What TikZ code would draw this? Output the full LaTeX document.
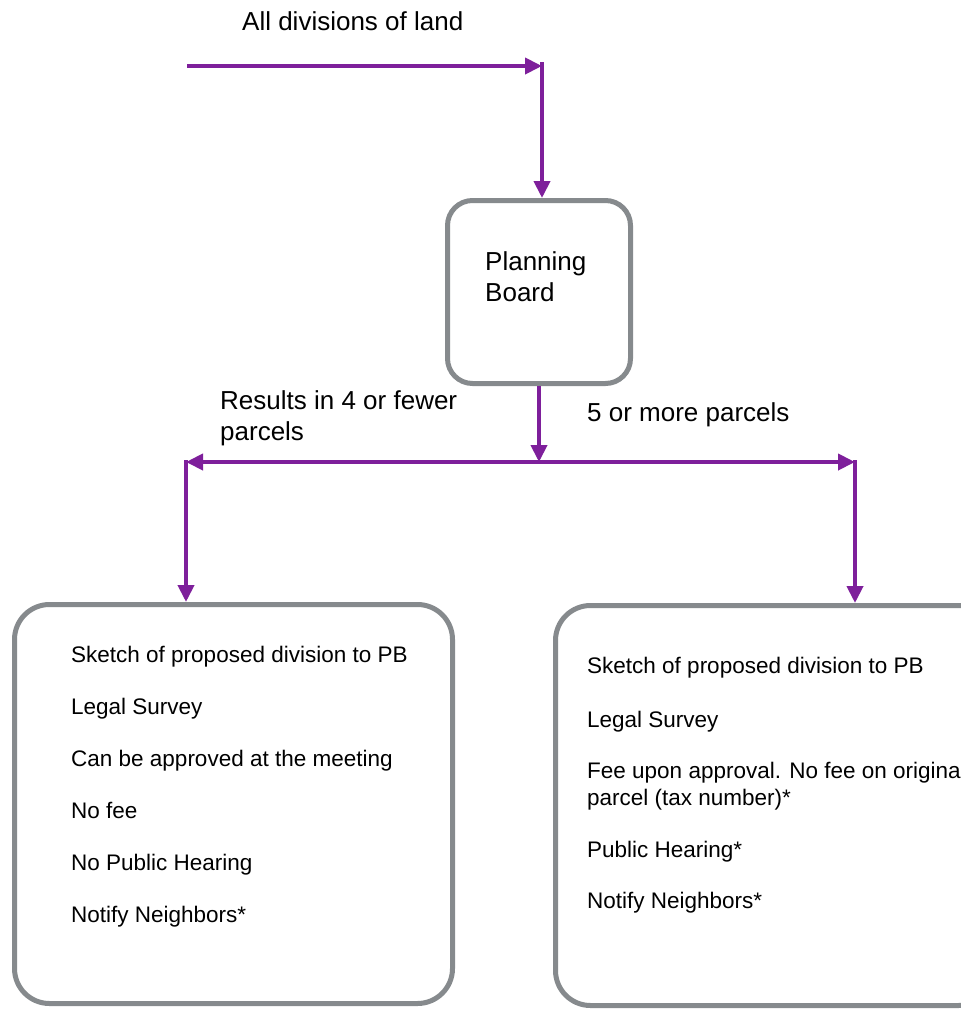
\documentclass[tikz,border=0pt]{standalone}
\usepackage{fontspec}
\setmainfont{Liberation Sans}
\usepackage{xcolor}
\usetikzlibrary{positioning, arrows.meta}
\definecolor{flowpurple}{RGB}{126, 31, 155}
\definecolor{boxgray}{RGB}{134, 138, 141}

\begin{document}
\begin{tikzpicture}[x=1pt, y=-1pt,
        flow/.style={draw=flowpurple, line width=4pt, -{Triangle[length=17pt, width=16pt]}},
        stage/.style={draw=boxgray, line width=5pt, rounded corners=#1, fill=white, inner sep=0pt},
        flowtext/.style={font=\fontsize{26}{31}\selectfont, align=left, inner sep=0pt, anchor=base west},
        entry/.style={font=\fontsize{22.5}{27}\selectfont, align=left, inner sep=0pt, anchor=base west}]
    \clip (0,0) rectangle (961,1010);

    % boxes
    \node[stage=25pt, minimum width=183pt, minimum height=183pt] (pb) at (539,292) {};
    \node[stage=35pt, minimum width=438pt, minimum height=399pt] (small) at (233.5,804) {};
    \node[stage=35pt, minimum width=438pt, minimum height=400pt] (large) at (774.5,805.5) {};

    % texts (two-line nodes sit on their last baseline)
    \node[flowtext] (topic) at (242,30) {All divisions of land};
    \node[flowtext] (pbtext) at (485,301) {Planning\\Board};
    \node[flowtext] (fewer) at (220,440) {Results in 4 or fewer\\parcels};
    \node[flowtext] (more) at (587,421) {5 or more parcels};

    \foreach \entry [count=\i] in {Sketch of proposed division to PB, Legal Survey,
            Can be approved at the meeting, No fee, No Public Hearing, Notify Neighbors*}
        \node[entry] (small\i) at (71, 610+52*\i) {\entry};

    \node[entry] (large1) at (587,673) {Sketch of proposed division to PB};
    \node[entry] (large2) at (587,727) {Legal Survey};
    \node[entry] (large3) at (587,805) {Fee upon approval. No fee on original\\parcel (tax number)*};
    \node[entry] (large4) at (587,857) {Public Hearing*};
    \node[entry] (large5) at (587,908) {Notify Neighbors*};

    % arrows
    \coordinate (src) at (187,66);
    \coordinate (bend) at (542,66);
    \coordinate (bendtop) at (542,62);
    \coordinate (split) at (540,462);
    \coordinate (lefttee) at (186,462);
    \coordinate (righttee) at (855,462);
    \coordinate (lefttop) at (186,460);
    \coordinate (righttop) at (855,460);

    \draw[flow] (src) -- (bend);
    \draw[flow] (bendtop) -- (bendtop |- pb.north);
    \draw[flow] (pb.south) -- (pb.south |- split);
    \draw[flow] (split) -- (lefttee);
    \draw[flow] (split) -- (righttee);
    \draw[flow] (lefttop) -- (lefttop |- small.north);
    \draw[flow] (righttop) -- (righttop |- large.north);
\end{tikzpicture}
\end{document}
